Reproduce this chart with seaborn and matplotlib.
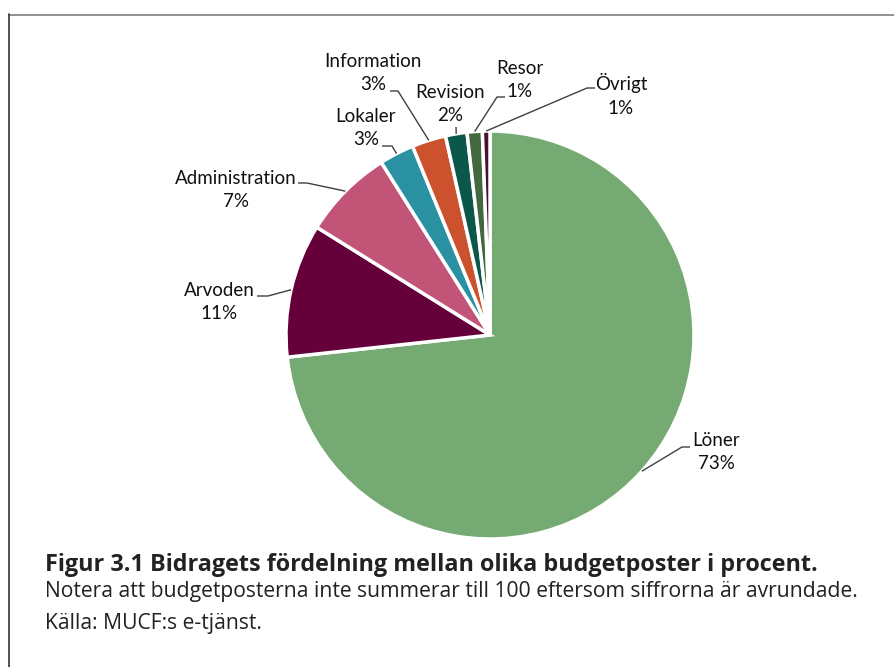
import numpy as np
import matplotlib
matplotlib.use("Agg")
import matplotlib.pyplot as plt
from matplotlib.lines import Line2D
import seaborn as sns

# ---- data ----
categories = ["Löner", "Arvoden", "Administration", "Lokaler",
              "Information", "Revision", "Resor", "Övrigt"]
values = [73.3, 10.6, 7.2, 2.75, 2.7, 1.7, 1.2, 0.6]
pct_labels = ["73%", "11%", "7%", "3%", "3%", "2%", "1%", "1%"]
colors = ["#75AA72", "#66003A", "#C25478", "#2A91A3",
          "#CC522E", "#0B584A", "#41683F", "#4A1030"]

title = "Figur 3.1 Bidragets fördelning mellan olika budgetposter i procent."
note = "Notera att budgetposterna inte summerar till 100 eftersom siffrorna är avrundade."
source = "Källa: MUCF:s e-tjänst."

# ---- layout (pixel coordinates, y measured from top) ----
W, H = 895, 667
CX, CY, R = 490, 335, 204
label_pos = {
    "Löner": (716, 452), "Arvoden": (219, 302), "Administration": (236, 190),
    "Lokaler": (366, 128), "Information": (373, 73), "Revision": (450, 104),
    "Resor": (520, 80), "Övrigt": (621, 95),
}
# (text-side end, elbow) of leader lines; None -> straight line
leader = {
    "Löner": ((690, 447), (682, 447)),
    "Arvoden": ((257, 296), (268, 296)),
    "Administration": ((298, 183), (307, 183)),
    "Lokaler": ((382, 146), (392, 146)),
    "Information": ((390, 91), (398, 91)),
    "Revision": ((456, 127), None),
    "Resor": ((505, 97), (497, 97)),
    "Övrigt": ((595, 88), (587, 88)),
}

sns.set_theme(style="white")
plt.rcParams["font.family"] = ["Lato", "DejaVu Sans"]

fig = plt.figure(figsize=(W / 100, H / 100), dpi=100)
ax = fig.add_axes([0, 0, 1, 1])


def Y(y):
    return H - y


wedges, _ = ax.pie(values, colors=sns.color_palette(colors), startangle=90,
                   counterclock=False, center=(CX, Y(CY)), radius=R,
                   wedgeprops=dict(edgecolor="white", linewidth=2.5))
ax.set_xlim(0, W)
ax.set_ylim(0, H)
ax.set_aspect("equal")
ax.axis("off")

for w, cat, pct in zip(wedges, categories, pct_labels):
    mid = np.deg2rad((w.theta1 + w.theta2) / 2)
    px = CX + R * np.cos(mid)
    py = Y(CY) + R * np.sin(mid)
    end, elbow = leader[cat]
    xs = [px]
    ys = [py]
    if elbow is not None:
        xs.append(elbow[0]); ys.append(Y(elbow[1]))
    xs.append(end[0]); ys.append(Y(end[1]))
    ax.plot(xs, ys, color="#404040", lw=1.0, solid_capstyle="butt")
    tx, ty = label_pos[cat]
    ax.text(tx, Y(ty), f"{cat}\n{pct}", ha="center", va="center",
            fontsize=13.5, color="#111111", linespacing=1.45)

# caption
cap_font = ["Open Sans", "Noto Sans", "DejaVu Sans"]
fig.text(45 / W, 1 - 571 / H, title, ha="left", va="baseline",
         fontsize=16.85, fontweight="bold", color="#222222", family=cap_font)
fig.text(45 / W, 1 - 597.5 / H, note, ha="left", va="baseline",
         fontsize=15.25, color="#222222", family=cap_font)
fig.text(45 / W, 1 - 628.5 / H, source, ha="left", va="baseline",
         fontsize=15.25, color="#222222", family=cap_font)

# frame lines
fig.add_artist(Line2D([9.5 / W, 1], [1 - 14.8 / H, 1 - 14.8 / H],
                      color="#888888", lw=1.3, transform=fig.transFigure))
fig.add_artist(Line2D([9.5 / W, 9.5 / W], [0, 1 - 14.2 / H],
                      color="#333333", lw=1.2, transform=fig.transFigure))

fig.savefig("out.png", dpi=100, facecolor="white")
